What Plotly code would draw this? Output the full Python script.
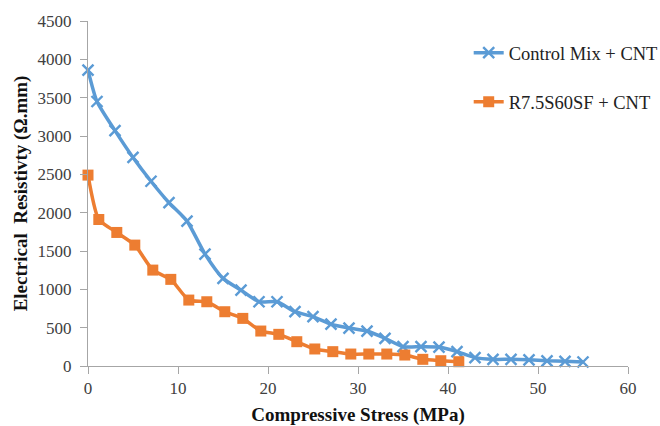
import plotly.graph_objects as go

blue_x = [0, 1, 3, 5, 7, 9, 11, 13, 15, 17, 19, 21, 23, 25, 27, 29, 31, 33, 35, 37, 39, 41, 43, 45, 47, 49, 51, 53, 55]
blue_y = [3860, 3450, 3070, 2720, 2410, 2130, 1890, 1460, 1143, 990, 838, 838, 708, 643, 545, 495, 456, 361, 252, 252, 247, 187, 109, 87, 87, 80, 67, 61, 52]

orange_x = [0, 1.2, 3.2, 5.2, 7.2, 9.2, 11.2, 13.2, 15.2, 17.2, 19.2, 21.2, 23.2, 25.2, 27.2, 29.2, 31.2, 33.2, 35.2, 37.2, 39.2, 41.2]
orange_y = [2490, 1911, 1742, 1577, 1251, 1130, 860, 838, 708, 621, 456, 413, 317, 222, 187, 156, 156, 156, 143, 87, 69, 56]

x_ticks = [0, 10, 20, 30, 40, 50, 60]
y_ticks = [0, 500, 1000, 1500, 2000, 2500, 3000, 3500, 4000, 4500]

BLUE = "#5B9BD5"
ORANGE = "#ED7D31"
FONT = "Liberation Serif"

fig = go.Figure()
fig.add_trace(go.Scatter(
    x=blue_x, y=blue_y, name="Control Mix + CNT", mode="lines+markers",
    legendgroup="a",
    line=dict(color=BLUE, width=3.5, shape="spline", smoothing=0.6),
    marker=dict(symbol="x-thin", size=11, line=dict(width=2.4, color=BLUE), color=BLUE),
    cliponaxis=False,
))
fig.add_trace(go.Scatter(
    x=orange_x, y=orange_y, name="R7.5S60SF + CNT", mode="lines+markers",
    legendgroup="b",
    line=dict(color=ORANGE, width=3.5, shape="spline", smoothing=0.6),
    marker=dict(symbol="square", size=11, color=ORANGE),
    cliponaxis=False,
))

fig.update_layout(
    width=660, height=426,
    margin=dict(l=88, r=32, t=21, b=60, autoexpand=False),
    paper_bgcolor="white", plot_bgcolor="white",
    font=dict(family=FONT, size=17, color="#404040"),
    showlegend=True,
    legend=dict(x=0.705, y=0.962, xanchor="left", yanchor="top",
                font=dict(family=FONT, size=18.5, color="#222222"),
                tracegroupgap=22, itemwidth=30, bgcolor="rgba(0,0,0,0)"),
    xaxis=dict(range=[0, 60], tickvals=x_ticks, showgrid=False, zeroline=False,
               showline=True, linecolor="#A6A6A6", linewidth=1, automargin=False,
               ticks="outside", ticklen=7, tickcolor="#A6A6A6",
               tickfont=dict(family=FONT, size=17, color="#404040"),
               title=dict(text="<b>Compressive Stress (MPa)</b>", standoff=10,
                          font=dict(family=FONT, size=19, color="#111111"))),
    yaxis=dict(range=[0, 4500], tickvals=y_ticks, showgrid=False, zeroline=False,
               showline=True, linecolor="#A6A6A6", linewidth=1, automargin=False,
               ticks="outside", ticklen=7, tickcolor="#A6A6A6", ticklabelstandoff=5,
               tickfont=dict(family=FONT, size=17, color="#404040"),
               title=dict(text="<b>Electrical  Resistivty (Ω.mm)</b>", standoff=4,
                          font=dict(family=FONT, size=19, color="#111111"))),
)

fig.write_html("out.html")
